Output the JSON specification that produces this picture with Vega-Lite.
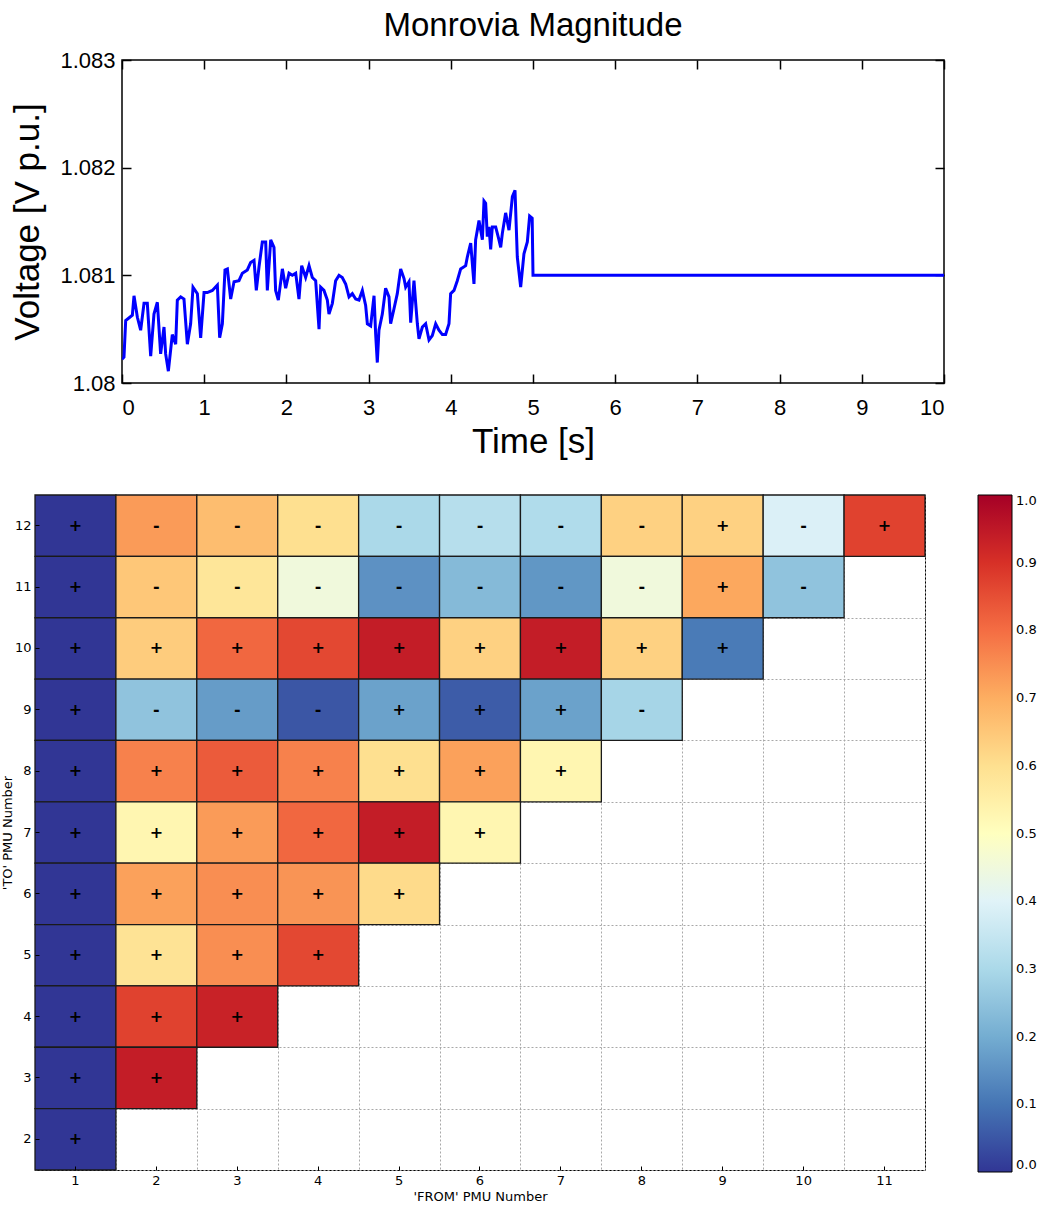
{
"$schema": "https://vega.github.io/schema/vega-lite/v6.json",
"background": "white",
"padding": {"left": 0, "top": 9, "right": 0, "bottom": 0},
"datasets": {
"ts": [
{"t":0.0,"v":1.08022},{"t":0.024,"v":1.08024},{"t":0.045,"v":1.08058},{"t":0.126,"v":1.08063},{"t":0.146,"v":1.08081},{"t":0.187,"v":1.08061},{"t":0.227,"v":1.08049},{"t":0.268,"v":1.08074},{"t":0.308,"v":1.08074},{"t":0.349,"v":1.08025},{"t":0.389,"v":1.08064},{"t":0.43,"v":1.08075},{"t":0.47,"v":1.08027},{"t":0.511,"v":1.08052},{"t":0.531,"v":1.08027},{"t":0.564,"v":1.08011},{"t":0.612,"v":1.08045},{"t":0.653,"v":1.08036},{"t":0.673,"v":1.08077},{"t":0.714,"v":1.0808},{"t":0.754,"v":1.08078},{"t":0.795,"v":1.08036},{"t":0.835,"v":1.08055},{"t":0.864,"v":1.08089},{"t":0.917,"v":1.08083},{"t":0.957,"v":1.08042},{"t":0.998,"v":1.08084},{"t":1.038,"v":1.08084},{"t":1.099,"v":1.08086},{"t":1.16,"v":1.08091},{"t":1.188,"v":1.08042},{"t":1.221,"v":1.08055},{"t":1.253,"v":1.08105},{"t":1.282,"v":1.08106},{"t":1.322,"v":1.08078},{"t":1.363,"v":1.08094},{"t":1.423,"v":1.08095},{"t":1.464,"v":1.08102},{"t":1.525,"v":1.08105},{"t":1.565,"v":1.08112},{"t":1.606,"v":1.08114},{"t":1.634,"v":1.08086},{"t":1.667,"v":1.08108},{"t":1.707,"v":1.08131},{"t":1.748,"v":1.08131},{"t":1.768,"v":1.08086},{"t":1.809,"v":1.08133},{"t":1.849,"v":1.08126},{"t":1.869,"v":1.08086},{"t":1.902,"v":1.08077},{"t":1.951,"v":1.08106},{"t":1.991,"v":1.08088},{"t":2.032,"v":1.08102},{"t":2.072,"v":1.081},{"t":2.113,"v":1.08102},{"t":2.153,"v":1.08078},{"t":2.186,"v":1.08109},{"t":2.234,"v":1.08098},{"t":2.275,"v":1.08109},{"t":2.315,"v":1.08098},{"t":2.356,"v":1.08095},{"t":2.397,"v":1.0805},{"t":2.417,"v":1.08089},{"t":2.457,"v":1.08086},{"t":2.498,"v":1.08077},{"t":2.518,"v":1.08064},{"t":2.559,"v":1.08074},{"t":2.599,"v":1.08095},{"t":2.64,"v":1.081},{"t":2.68,"v":1.08098},{"t":2.721,"v":1.08092},{"t":2.762,"v":1.0808},{"t":2.802,"v":1.08083},{"t":2.843,"v":1.08078},{"t":2.883,"v":1.08077},{"t":2.924,"v":1.08086},{"t":2.964,"v":1.08072},{"t":2.985,"v":1.08055},{"t":3.025,"v":1.08053},{"t":3.066,"v":1.08081},{"t":3.086,"v":1.08045},{"t":3.106,"v":1.08019},{"t":3.126,"v":1.08049},{"t":3.167,"v":1.08064},{"t":3.207,"v":1.08088},{"t":3.248,"v":1.0808},{"t":3.268,"v":1.08055},{"t":3.309,"v":1.08069},{"t":3.349,"v":1.08083},{"t":3.39,"v":1.08106},{"t":3.431,"v":1.08097},{"t":3.451,"v":1.08089},{"t":3.491,"v":1.08094},{"t":3.512,"v":1.08056},{"t":3.552,"v":1.08095},{"t":3.573,"v":1.08074},{"t":3.593,"v":1.08055},{"t":3.613,"v":1.08041},{"t":3.654,"v":1.08052},{"t":3.694,"v":1.08055},{"t":3.735,"v":1.0804},{"t":3.775,"v":1.08044},{"t":3.816,"v":1.08055},{"t":3.856,"v":1.08049},{"t":3.897,"v":1.08045},{"t":3.937,"v":1.08045},{"t":3.978,"v":1.08055},{"t":3.998,"v":1.08083},{"t":4.039,"v":1.08086},{"t":4.079,"v":1.08095},{"t":4.12,"v":1.08106},{"t":4.181,"v":1.08109},{"t":4.201,"v":1.08117},{"t":4.242,"v":1.0813},{"t":4.282,"v":1.08092},{"t":4.302,"v":1.08133},{"t":4.323,"v":1.08142},{"t":4.343,"v":1.08151},{"t":4.384,"v":1.08133},{"t":4.404,"v":1.08169},{"t":4.424,"v":1.08167},{"t":4.444,"v":1.08136},{"t":4.465,"v":1.08145},{"t":4.485,"v":1.08124},{"t":4.505,"v":1.08145},{"t":4.546,"v":1.08145},{"t":4.586,"v":1.08133},{"t":4.607,"v":1.08126},{"t":4.627,"v":1.08139},{"t":4.667,"v":1.08158},{"t":4.708,"v":1.08142},{"t":4.749,"v":1.08173},{"t":4.781,"v":1.08179},{"t":4.809,"v":1.08117},{"t":4.85,"v":1.08089},{"t":4.89,"v":1.0812},{"t":4.931,"v":1.08131},{"t":4.959,"v":1.08155},{"t":4.99,"v":1.08153},{"t":5.0,"v":1.081},{"t":10.0,"v":1.081}
],
"cells": [
{"from":1,"to":12,"value":0.0,"sign":"+"},{"from":2,"to":12,"value":0.73,"sign":"-"},{"from":3,"to":12,"value":0.67,"sign":"-"},{"from":4,"to":12,"value":0.6,"sign":"-"},{"from":5,"to":12,"value":0.3,"sign":"-"},{"from":6,"to":12,"value":0.32,"sign":"-"},{"from":7,"to":12,"value":0.31,"sign":"-"},{"from":8,"to":12,"value":0.63,"sign":"-"},{"from":9,"to":12,"value":0.63,"sign":"+"},{"from":10,"to":12,"value":0.39,"sign":"-"},{"from":11,"to":12,"value":0.87,"sign":"+"},
{"from":1,"to":11,"value":0.0,"sign":"+"},{"from":2,"to":11,"value":0.65,"sign":"-"},{"from":3,"to":11,"value":0.58,"sign":"-"},{"from":4,"to":11,"value":0.45,"sign":"-"},{"from":5,"to":11,"value":0.15,"sign":"-"},{"from":6,"to":11,"value":0.23,"sign":"-"},{"from":7,"to":11,"value":0.16,"sign":"-"},{"from":8,"to":11,"value":0.45,"sign":"-"},{"from":9,"to":11,"value":0.71,"sign":"+"},{"from":10,"to":11,"value":0.25,"sign":"-"},
{"from":1,"to":10,"value":0.0,"sign":"+"},{"from":2,"to":10,"value":0.64,"sign":"+"},{"from":3,"to":10,"value":0.81,"sign":"+"},{"from":4,"to":10,"value":0.86,"sign":"+"},{"from":5,"to":10,"value":0.94,"sign":"+"},{"from":6,"to":10,"value":0.63,"sign":"+"},{"from":7,"to":10,"value":0.94,"sign":"+"},{"from":8,"to":10,"value":0.63,"sign":"+"},{"from":9,"to":10,"value":0.11,"sign":"+"},
{"from":1,"to":9,"value":0.0,"sign":"+"},{"from":2,"to":9,"value":0.25,"sign":"-"},{"from":3,"to":9,"value":0.17,"sign":"-"},{"from":4,"to":9,"value":0.05,"sign":"-"},{"from":5,"to":9,"value":0.18,"sign":"+"},{"from":6,"to":9,"value":0.06,"sign":"+"},{"from":7,"to":9,"value":0.18,"sign":"+"},{"from":8,"to":9,"value":0.29,"sign":"-"},
{"from":1,"to":8,"value":0.0,"sign":"+"},{"from":2,"to":8,"value":0.77,"sign":"+"},{"from":3,"to":8,"value":0.83,"sign":"+"},{"from":4,"to":8,"value":0.77,"sign":"+"},{"from":5,"to":8,"value":0.6,"sign":"+"},{"from":6,"to":8,"value":0.72,"sign":"+"},{"from":7,"to":8,"value":0.53,"sign":"+"},
{"from":1,"to":7,"value":0.0,"sign":"+"},{"from":2,"to":7,"value":0.53,"sign":"+"},{"from":3,"to":7,"value":0.73,"sign":"+"},{"from":4,"to":7,"value":0.81,"sign":"+"},{"from":5,"to":7,"value":0.94,"sign":"+"},{"from":6,"to":7,"value":0.53,"sign":"+"},
{"from":1,"to":6,"value":0.0,"sign":"+"},{"from":2,"to":6,"value":0.72,"sign":"+"},{"from":3,"to":6,"value":0.75,"sign":"+"},{"from":4,"to":6,"value":0.74,"sign":"+"},{"from":5,"to":6,"value":0.61,"sign":"+"},
{"from":1,"to":5,"value":0.0,"sign":"+"},{"from":2,"to":5,"value":0.59,"sign":"+"},{"from":3,"to":5,"value":0.75,"sign":"+"},{"from":4,"to":5,"value":0.86,"sign":"+"},
{"from":1,"to":4,"value":0.0,"sign":"+"},{"from":2,"to":4,"value":0.87,"sign":"+"},{"from":3,"to":4,"value":0.93,"sign":"+"},
{"from":1,"to":3,"value":0.0,"sign":"+"},{"from":2,"to":3,"value":0.94,"sign":"+"},
{"from":1,"to":2,"value":0.0,"sign":"+"}
]
},
"vconcat": [
{
"hconcat": [
{"width": 1, "height": 1, "view": {"stroke": null}, "data": {"values": [{}]}, "mark": {"type": "rect", "opacity": 0}, "encoding": {}},
{
"width": 822, "height": 323,
"view": {"stroke": "black", "strokeWidth": 1.5},
"title": {"text": "Monrovia Magnitude", "font": "Liberation Sans", "fontSize": 33, "fontWeight": "normal", "color": "black", "offset": 6},
"data": {"name": "ts"},
"layer": [
{"mark": {"type": "line", "color": "#0000ff", "strokeWidth": 3, "clip": true},
"encoding": {
"x": {"field": "t", "type": "quantitative", "scale": {"domain": [0, 10], "nice": false},
"axis": {"orient": "bottom", "values": [0,1,2,3,4,5,6,7,8,9,10], "title": "Time [s]", "titleFont": "Liberation Sans", "titleFontSize": 35, "titleFontWeight": "normal", "titleColor": "black", "titlePadding": 6, "labelFont": "Liberation Sans", "labelFontSize": 22, "labelColor": "black", "labelPadding": 23, "tickSize": -9, "tickColor": "black", "tickWidth": 1.5, "domain": false, "grid": false}},
"y": {"field": "v", "type": "quantitative", "scale": {"domain": [1.08, 1.083], "nice": false, "zero": false},
"axis": {"orient": "left", "values": [1.08, 1.081, 1.082, 1.083], "format": ".4~f", "title": "Voltage [V p.u.]", "titleFont": "Liberation Sans", "titleFontSize": 35, "titleFontWeight": "normal", "titleColor": "black", "titlePadding": 14, "labelFont": "Liberation Sans", "labelFontSize": 22, "labelColor": "black", "labelPadding": 16, "tickSize": -9, "tickColor": "black", "tickWidth": 1.5, "domain": false, "grid": false}}
}},
{"mark": {"type": "line", "opacity": 0},
"encoding": {
"x": {"field": "t", "type": "quantitative", "axis": {"orient": "top", "values": [0,1,2,3,4,5,6,7,8,9,10], "labels": false, "title": null, "tickSize": -9, "tickColor": "black", "tickWidth": 1.5, "domain": false, "grid": false}},
"y": {"field": "v", "type": "quantitative", "axis": {"orient": "right", "values": [1.08, 1.081, 1.082, 1.083], "labels": false, "title": null, "tickSize": -9, "tickColor": "black", "tickWidth": 1.5, "domain": false, "grid": false}}
}}
],
"resolve": {"axis": {"x": "independent", "y": "independent"}}
}
],
"spacing": -26
},
{
"hconcat": [
{
"width": 890, "height": 675,
"view": {"stroke": "black", "strokeWidth": 1},
"data": {"name": "cells"},
"layer": [
{"mark": {"type": "rect", "stroke": "#1a1a1a", "strokeWidth": 1.3},
"encoding": {
"x": {"field": "from", "type": "ordinal", "scale": {"domain": [1,2,3,4,5,6,7,8,9,10,11], "paddingInner": 0, "paddingOuter": 0},
"axis": {"orient": "bottom", "title": "'FROM' PMU Number", "labelAngle": 0, "labelFont": "DejaVu Sans", "labelFontSize": 13, "labelColor": "black", "labelPadding": 8, "titleFont": "DejaVu Sans", "titleFontSize": 13, "titleFontWeight": "normal", "titleColor": "black", "titlePadding": 3, "tickSize": -4, "tickColor": "black", "domain": false, "grid": false}},
"y": {"field": "to", "type": "ordinal", "scale": {"domain": [12,11,10,9,8,7,6,5,4,3,2], "paddingInner": 0, "paddingOuter": 0},
"axis": {"orient": "left", "title": "'TO' PMU Number", "labelFont": "DejaVu Sans", "labelFontSize": 13, "labelColor": "black", "labelPadding": 8, "titleFont": "DejaVu Sans", "titleFontSize": 13, "titleFontWeight": "normal", "titleColor": "black", "titlePadding": 0, "tickSize": -4, "tickColor": "black", "domain": false, "grid": false}},
"color": {"field": "value", "type": "quantitative",
"scale": {"domain": [0,0.1,0.2,0.3,0.4,0.5,0.6,0.7,0.8,0.9,1.0], "range": ["#313695","#4575b4","#74add1","#abd9e9","#e0f3f8","#ffffbf","#fee090","#fdae61","#f46d43","#d73027","#a50026"], "interpolate": "rgb"},
"legend": {"type": "gradient", "orient": "right", "title": null, "direction": "vertical", "gradientLength": 677, "gradientThickness": 34, "offset": 53, "values": [0,0.1,0.2,0.3,0.4,0.5,0.6,0.7,0.8,0.9,1.0], "format": ".1f", "labelFont": "DejaVu Sans", "labelFontSize": 13, "labelColor": "black", "labelOffset": 4, "gradientStrokeColor": "black", "gradientStrokeWidth": 1, "padding": 0}}
}},
{"mark": {"type": "text", "font": "DejaVu Sans", "fontSize": 16, "fontWeight": "bold", "color": "black"},
"encoding": {
"x": {"field": "from", "type": "ordinal", "axis": {"orient": "top", "tickBand": "extent", "labels": false, "ticks": false, "title": null, "domain": false, "grid": true, "gridDash": [2, 2], "gridColor": "#a8a8a8", "gridWidth": 1}},
"y": {"field": "to", "type": "ordinal", "axis": {"orient": "right", "tickBand": "extent", "labels": false, "ticks": false, "title": null, "domain": false, "grid": true, "gridDash": [2, 2], "gridColor": "#a8a8a8", "gridWidth": 1}},
"text": {"field": "sign"}
}}
],
"resolve": {"axis": {"x": "independent", "y": "independent"}}
}
],
"resolve": {"legend": {"color": "independent"}, "scale": {"color": "independent"}}
}
],
"spacing": 33,
"resolve": {"legend": {"color": "independent"}, "scale": {"color": "independent"}}
}
